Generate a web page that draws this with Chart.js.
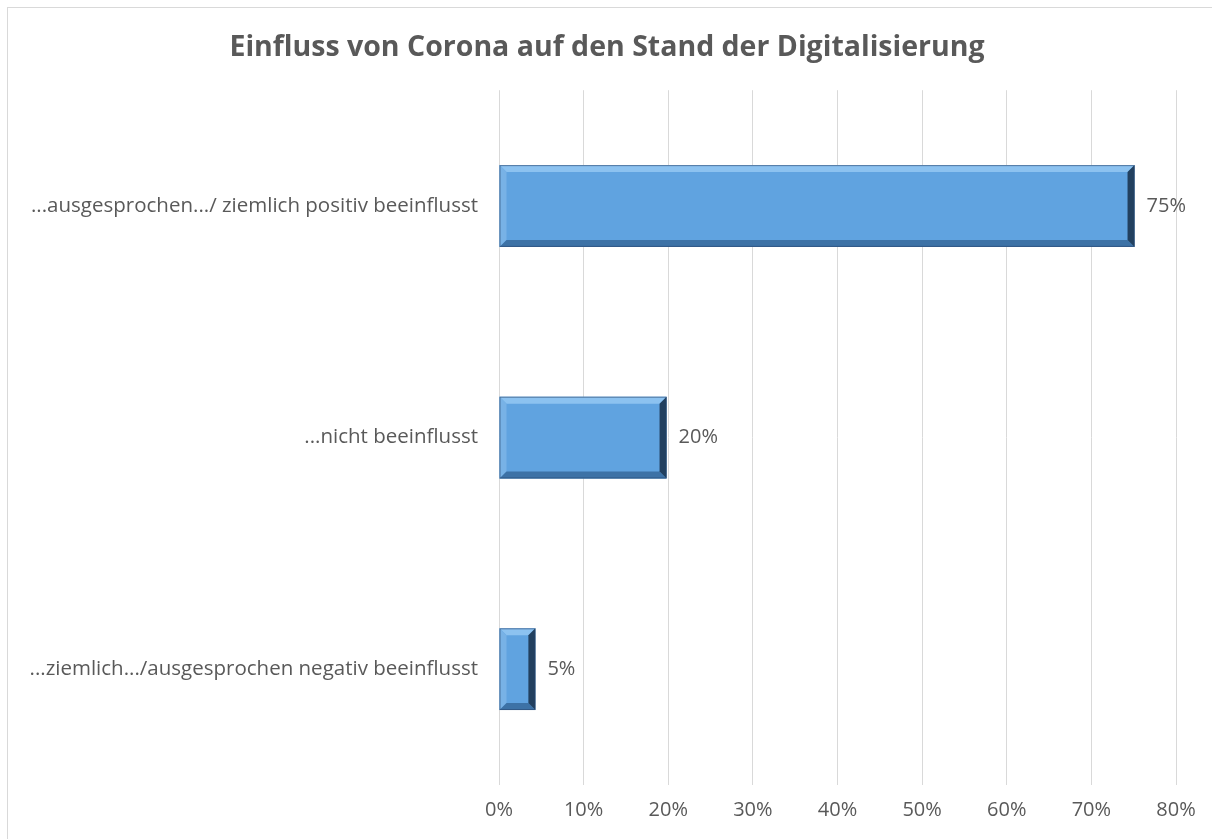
<!DOCTYPE html>
<html>
<head>
<meta charset="utf-8">
<script src="https://cdn.jsdelivr.net/npm/chart.js@4/dist/chart.umd.min.js"></script>
<style>
  html, body { margin: 0; padding: 0; background: #fff; overflow: hidden; }
  #rahmen { position: absolute; left: 7px; top: 7px; width: 1400px; height: 1000px; border: 1px solid #d9d9d9; }
  #wrap { position: absolute; left: 0; top: 0; width: 1212px; height: 839px; }
</style>
</head>
<body>
<div id="rahmen"></div>
<div id="wrap"><canvas id="chart1"></canvas></div>
<script>
var kategorien = [
  "...ausgesprochen.../ ziemlich positiv beeinflusst",
  "...nicht beeinflusst",
  "...ziemlich.../ausgesprochen negativ beeinflusst"
];
var werte = [75.1, 19.8, 4.3];
var beschriftung = ["75%", "20%", "5%"];
var titel = "Einfluss von Corona auf den Stand der Digitalisierung";

var grau = "#595959";
var schrift = "'Open Sans'";

// Excel-artige Abschrägung auf jedem Balken
var bevelPlugin = {
  id: "bevel",
  afterDatasetsDraw: function (chart) {
    var ctx = chart.ctx;
    var meta = chart.getDatasetMeta(0);
    meta.data.forEach(function (bar, i) {
      var x0 = bar.base, x1 = bar.x;
      var y0 = bar.y - bar.height / 2, y1 = bar.y + bar.height / 2;
      var b = 7;
      ctx.save();
      // oben
      ctx.fillStyle = "#8cc2f0";
      ctx.beginPath();
      ctx.moveTo(x0, y0); ctx.lineTo(x1, y0); ctx.lineTo(x1 - b, y0 + b); ctx.lineTo(x0 + b, y0 + b);
      ctx.closePath(); ctx.fill();
      // links
      ctx.fillStyle = "#78b2e6";
      ctx.beginPath();
      ctx.moveTo(x0, y0); ctx.lineTo(x0 + b, y0 + b); ctx.lineTo(x0 + b, y1 - b); ctx.lineTo(x0, y1);
      ctx.closePath(); ctx.fill();
      // unten
      ctx.fillStyle = "#3d72a6";
      ctx.beginPath();
      ctx.moveTo(x0, y1); ctx.lineTo(x0 + b, y1 - b); ctx.lineTo(x1 - b, y1 - b); ctx.lineTo(x1, y1);
      ctx.closePath(); ctx.fill();
      // rechts
      ctx.fillStyle = "#22405f";
      ctx.beginPath();
      ctx.moveTo(x1, y0); ctx.lineTo(x1, y1); ctx.lineTo(x1 - b, y1 - b); ctx.lineTo(x1 - b, y0 + b);
      ctx.closePath(); ctx.fill();
      ctx.strokeStyle = "rgba(40,70,110,0.6)";
      ctx.lineWidth = 1;
      ctx.strokeRect(x0 + 0.5, y0 + 0.5, x1 - x0 - 1, y1 - y0 - 1);
      // Werte
      ctx.fillStyle = grau;
      ctx.font = "20px " + schrift;
      ctx.textAlign = "left";
      ctx.textBaseline = "middle";
      ctx.fillText(beschriftung[i], x1 + 12, bar.y);
      ctx.restore();
    });
  }
};

var datos = {
  type: "bar",
  data: {
    labels: kategorien,
    datasets: [{
      data: werte,
      backgroundColor: "#60a3e0",
      borderWidth: 0,
      categoryPercentage: 1,
      barPercentage: 0.353
    }]
  },
  options: {
    indexAxis: "y",
    responsive: true,
    maintainAspectRatio: false,
    animation: false,
    layout: { padding: { left: 18, right: 16, top: 31, bottom: 4 } },
    plugins: {
      legend: { display: false },
      tooltip: { enabled: false },
      title: {
        display: true,
        text: titel,
        color: grau,
        font: { family: schrift, size: 28.5, weight: "bold" },
        padding: { top: 0, bottom: 25 }
      }
    },
    scales: {
      x: {
        min: 0,
        max: 80,
        ticks: {
          stepSize: 10,
          color: grau,
          font: { family: schrift, size: 20 },
          padding: 13,
          callback: function (v) { return v + "%"; }
        },
        grid: { color: "#d9d9d9", drawTicks: false },
        border: { display: false }
      },
      y: {
        ticks: {
          color: grau,
          font: { family: schrift, size: 20.5 },
          padding: 13
        },
        grid: { display: false },
        border: { display: false },
        afterFit: function (axis) { axis.width = 481; }
      },
      // leerer Rand rechts, damit der Titel mittig über dem Bild steht
      rechts: {
        type: "linear",
        position: "right",
        display: true,
        ticks: { display: false },
        grid: { display: false },
        border: { display: false },
        afterFit: function (axis) { axis.width = 20; }
      }
    }
  },
  plugins: [bevelPlugin]
};

var canvas = document.getElementById("chart1").getContext("2d");
window.balken = new Chart(canvas, datos);
</script>
</body>
</html>
